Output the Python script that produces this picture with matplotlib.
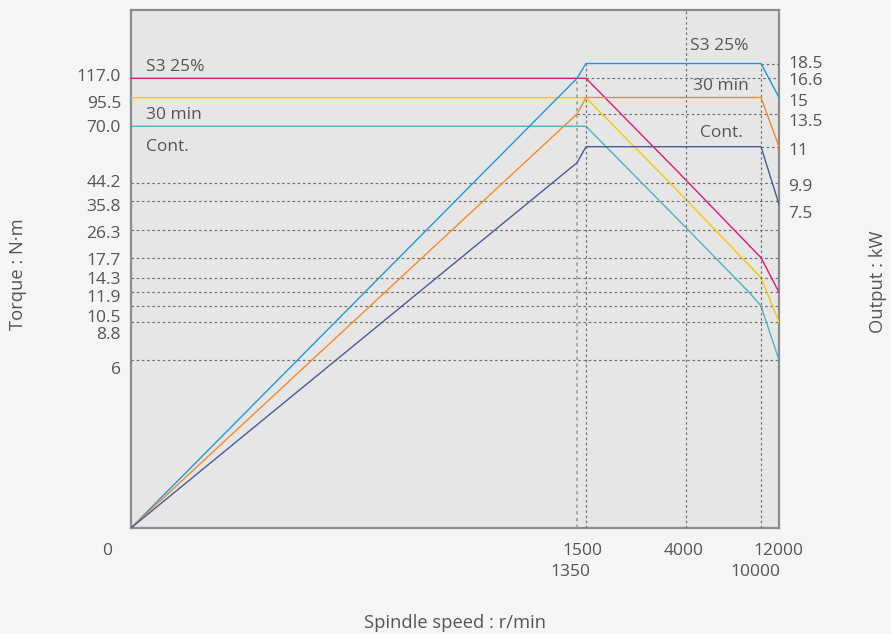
import numpy as np
import matplotlib
matplotlib.use("Agg")
import matplotlib.pyplot as plt

# ---------------- data ----------------
# axis tick values / labels
speed_row1 = [0, 1500, 4000, 12000]
speed_row2 = [1350, 10000]
torque_ticks = [117.0, 95.5, 70.0, 44.2, 35.8, 26.3, 17.7, 14.3, 11.9, 10.5, 8.8, 6.0]
torque_labels = ["117.0", "95.5", "70.0", "44.2", "35.8", "26.3", "17.7", "14.3", "11.9", "10.5", "8.8", "6"]
power_ticks = [18.5, 16.6, 15, 13.5, 11, 9.9, 7.5]
power_labels = ["18.5", "16.6", "15", "13.5", "11", "9.9", "7.5"]

# torque curves (r/min, N·m)
s3_t_speed = [0, 1500, 3770, 10000, 12000]
s3_torque = [117.0, 117.0, 49.7, 17.7, 11.9]
m30_t_speed = [0, 1500, 3770, 10000, 12000]
m30_torque = [95.5, 95.5, 40.8, 14.3, 8.8]
cont_t_speed = [0, 1500, 3770, 9120, 10000, 12000]
cont_torque = [70.0, 70.0, 30.1, 11.8, 10.5, 6.0]

# output curves (r/min, kW)
p_speed = [0, 1350, 1500, 10000, 12000]
s3_power = [0, 16.6, 18.5, 18.5, 15]
m30_power = [0, 13.5, 15, 15, 11]
cont_power = [0, 10.5, 11, 11, 7.4]

# ---------------- non-linear axis layout (value -> pixel from origin) ----------------
x_vals = [0, 1350, 1500, 4000, 10000, 12000]
x_pos = [0, 446, 455, 555, 630, 648]
t_vals = [0, 6, 8.8, 10.5, 11.9, 14.3, 17.7, 26.3, 35.8, 44.2, 70.0, 95.5, 117.0, 150]
t_pos = [0, 168, 206, 222, 235.7, 250.3, 270.3, 298, 327.3, 345.3, 401.7, 430.3, 449.7, 518]
p_vals = [0, 7.5, 9.9, 11, 13.5, 15, 16.6, 18.5, 22]
p_pos = [0, 328, 346, 381.3, 414, 430.5, 449.7, 464.5, 518]


def make_scale(vals, pos):
    v = np.asarray(vals, float)
    p = np.asarray(pos, float)
    return (lambda a: np.interp(a, v, p), lambda a: np.interp(a, p, v))


TXT = "#555555"
GRID = "#707070"
FONT = "Open Sans"
FS = 12.5
plt.rcParams['font.family'] = [FONT, 'DejaVu Sans']

W, H = 891, 634
fig = plt.figure(figsize=(W / 100, H / 100), dpi=100, facecolor="#f5f5f5")
L, B, AW, AH = 131, 634 - 528, 648, 518
ax_t = fig.add_axes([L / W, B / H, AW / W, AH / H], facecolor="#e6e6e6")
ax_t.set_xscale('function', functions=make_scale(x_vals, x_pos))
ax_t.set_yscale('function', functions=make_scale(t_vals, t_pos))
ax_t.set_xlim(0, 12000)
ax_t.set_ylim(0, 150)

ax_p = ax_t.twinx()
ax_p.patch.set_visible(False)
ax_p.set_yscale('function', functions=make_scale(p_vals, p_pos))
ax_p.set_ylim(0, 22)

for a in (ax_t, ax_p):
    a.set_xticks([])
    a.set_yticks([])
    a.minorticks_off()
    a.tick_params(which='both', length=0, labelleft=False, labelright=False, labelbottom=False)
for s in ax_t.spines.values():
    s.set_color("#8c8c8c")
    s.set_linewidth(1.6)
for s in ax_p.spines.values():
    s.set_visible(False)

dash = dict(color=GRID, lw=0.85, ls=(0, (2.2, 2.2)), zorder=1)

# horizontal torque reference lines
for v in torque_ticks[3:]:
    ax_t.plot([0, 12000], [v, v], **dash)
# horizontal power reference lines
ax_p.plot([1500, 12000], [16.6, 16.6], **dash)
ax_p.plot([10000, 12000], [18.5, 18.5], **dash)
ax_p.plot([1350, 12000], [13.5, 13.5], **dash)
ax_p.plot([10000, 12000], [11, 11], **dash)
# vertical speed reference lines
ax_p.plot([1350, 1350], [0, 16.6], color="#9a9a9a", lw=1.1, ls=(0, (2.2, 2.2)), zorder=1)
ax_p.plot([1500, 1500], [0, 18.5], **dash)
ax_p.plot([4000, 4000], [0, 22], **dash)
ax_p.plot([10000, 10000], [0, 18.5], **dash)

lw = 1.0
ax_t.plot(s3_t_speed, s3_torque, color="#e4157c", lw=lw, zorder=3)
ax_t.plot(m30_t_speed, m30_torque, color="#f8c800", lw=lw, zorder=3)
ax_t.plot(cont_t_speed, cont_torque, color="#4bb5c1", lw=lw, zorder=3)
ax_p.plot(p_speed, s3_power, color="#1c9ad8", lw=lw, zorder=3)
ax_p.plot(p_speed, m30_power, color="#f28c28", lw=lw, zorder=3)
ax_p.plot(p_speed, cont_power, color="#4b5a9a", lw=lw, zorder=3)

DY = 2  # visual centring correction for digits (pixels downward)

# left torque labels (pixel shifts downward to keep them readable)
t_shift = [-3, 4.5, 0, -2, 4, 2.5, 1.5, 0, 3.5, 10, 11, 8]
for v, lab, dy in zip(torque_ticks, torque_labels, t_shift):
    ax_t.annotate(lab, xy=(0, v), xycoords=('axes fraction', 'data'),
                  xytext=(-10, -dy - DY), textcoords='offset pixels',
                  ha='right', va='center', fontsize=FS, color=TXT, annotation_clip=False)
# right power labels
p_shift = [-1, 0.7, 3, 6.4, 2.3, 2.6, 11.7]
for v, lab, dy in zip(power_ticks, power_labels, p_shift):
    ax_p.annotate(lab, xy=(1, v), xycoords=('axes fraction', 'data'),
                  xytext=(9, -dy - DY), textcoords='offset pixels',
                  ha='left', va='center', fontsize=FS, color=TXT, annotation_clip=False)
# speed labels
r1_shift = [-24, -3.5, -2.3, -1]
for v, dx in zip(speed_row1, r1_shift):
    ax_t.annotate(str(v), xy=(v, 0), xycoords=('data', 'axes fraction'),
                  xytext=(dx, -21 - DY), textcoords='offset pixels',
                  ha='center', va='center', fontsize=FS, color=TXT, annotation_clip=False)
r2_shift = [-7, -5.5]
for v, dx in zip(speed_row2, r2_shift):
    ax_t.annotate(str(v), xy=(v, 0), xycoords=('data', 'axes fraction'),
                  xytext=(dx, -42 - DY), textcoords='offset pixels',
                  ha='center', va='center', fontsize=FS, color=TXT, annotation_clip=False)

# curve names
for s, x, y in [("S3 25%", 0.023, 0.890), ("30 min", 0.023, 0.797), ("Cont.", 0.023, 0.735),
                ("S3 25%", 0.863, 0.930), ("30 min", 0.867, 0.853), ("Cont.", 0.878, 0.762)]:
    ax_t.text(x, y, s, transform=ax_t.transAxes, ha='left', va='center', fontsize=FS, color=TXT)

# axis titles
fig.text(455 / W, 1 - 623 / H, "Spindle speed : r/min", ha='center', va='center', fontsize=13.2, color=TXT)
fig.text(18 / W, 1 - 274 / H, "Torque : N·m", rotation=90, ha='center', va='center', fontsize=13.2, color=TXT)
fig.text(878 / W, 1 - 282 / H, "Output : kW", rotation=90, ha='center', va='center', fontsize=13.2, color=TXT)

fig.savefig("out.png", dpi=100, facecolor=fig.get_facecolor())
